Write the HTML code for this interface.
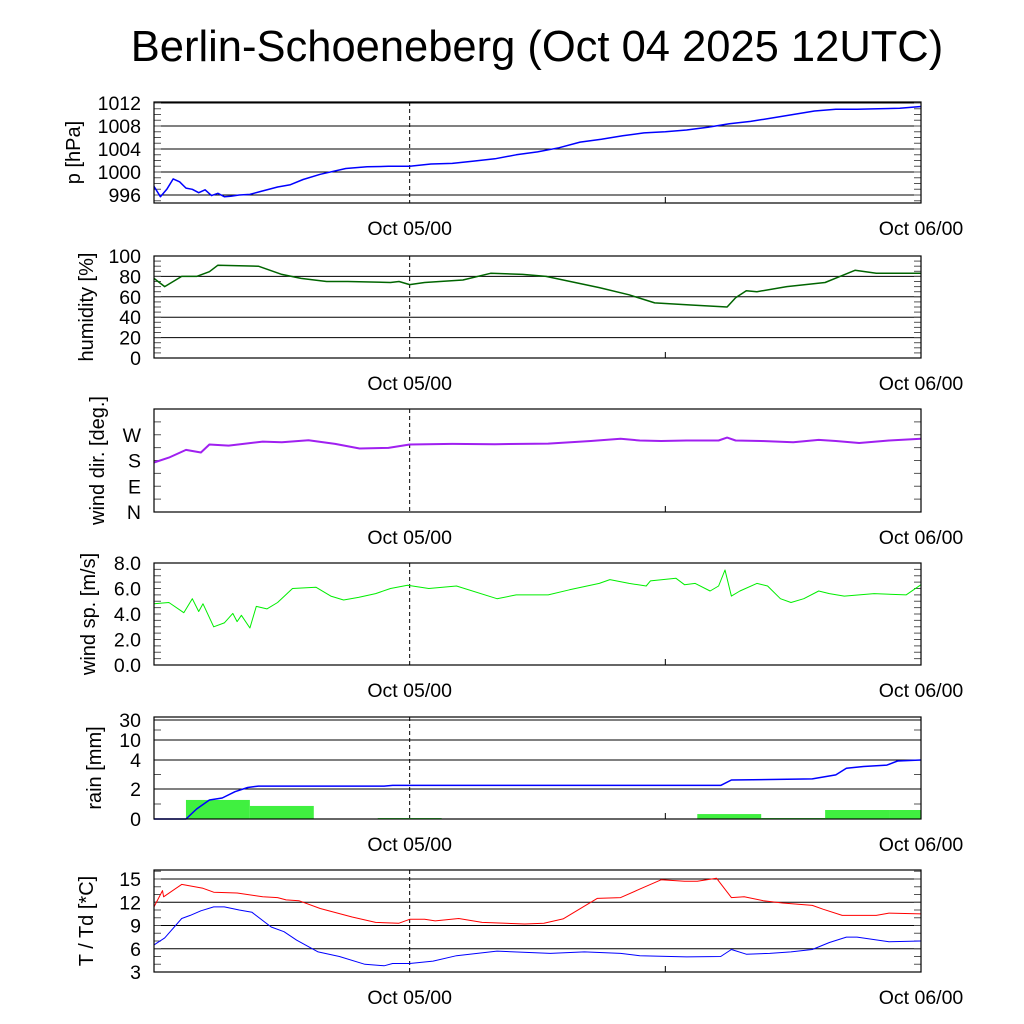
<!DOCTYPE html>
<html><head><meta charset="utf-8"><style>
html,body{margin:0;padding:0;background:#fff;}
svg{display:block;font-family:"Liberation Sans",sans-serif;}
</style></head><body>
<svg id="chart" width="1024" height="1024" viewBox="0 0 1024 1024" xmlns="http://www.w3.org/2000/svg">
<text x="537" y="61" font-size="43.5" text-anchor="middle">Berlin-Schoeneberg (Oct 04 2025 12UTC)</text>
</svg>
<script>
// ---- data ----
const xTickLabels = ["Oct 05/00", "Oct 06/00"];
const xTickHours = [12, 36];
const pT = [0,0.3,0.6,0.9,1.2,1.5,1.8,2.1,2.4,2.7,3,3.3,3.6,4,4.5,5,5.8,6.4,7,7.8,9,10,11,12,13,14,15,16,17,18,19,20,21,22,23,24,25,26,27,28,29,30,31,32,33,34,35,36];
const pV = [997.5,995.7,997,998.8,998.3,997.2,997,996.4,996.9,995.9,996.3,995.7,995.8,996,996.1,996.6,997.4,997.8,998.7,999.6,1000.6,1000.9,1001,1001,1001.4,1001.5,1001.9,1002.3,1003,1003.5,1004.2,1005.2,1005.7,1006.3,1006.8,1007,1007.3,1007.8,1008.4,1008.8,1009.4,1010,1010.6,1010.9,1010.9,1011,1011.1,1011.4];
const hT = [0,0.5,0.9,1.3,2,2.6,3,4.9,6,6.9,8.1,9.1,11.1,11.5,12,12.7,14.5,15.8,17.3,18.4,20.9,22.3,23.5,25.2,26.9,27.3,27.8,28.3,29.7,31.5,32.2,32.9,33.9,35.3,36];
const hV = [78,70,75,80,80,84.6,91,90,82,78,75,75,74,75,72,74,76.5,83,82,80,69,62,54,52,50,59,66,65,70,74,80,86,83,83,83];
const dT = [0,0.7,1.5,2.2,2.6,3.5,5.1,6,7.25,8.5,9.65,11,12,14,16,18.5,20.5,21.9,22.8,23.8,25,26.5,26.9,27.3,28.5,30,31.2,32,33.1,34.5,36];
const dV = [173,190,217,208,236,232,246,244,251,238,222,224,236,238,237,239,248,256,250,248,250,250,260,250,248,244,252,248,241,250,256];
const sT = [0,0.7,1.4,1.8,2.1,2.3,2.8,3.3,3.7,3.9,4.1,4.5,4.8,5.3,5.8,6.5,7.6,8.3,8.9,9.6,10.4,11.1,11.9,12.9,14.2,16.1,17,18.5,19.5,20.9,21.4,22.3,23.1,23.3,24.5,24.9,25.4,26.1,26.5,26.8,27.1,27.5,28.3,28.8,29.4,29.9,30.5,31.2,31.7,32.4,33.8,35.3,36];
const sV = [4.8,4.9,4.1,5.2,4.2,4.8,3.0,3.3,4.05,3.4,3.9,2.9,4.6,4.4,4.9,6.0,6.1,5.4,5.1,5.3,5.6,6.0,6.25,6.0,6.2,5.2,5.5,5.5,5.9,6.4,6.7,6.4,6.2,6.6,6.8,6.3,6.4,5.8,6.2,7.45,5.4,5.8,6.4,6.2,5.2,4.9,5.2,5.8,5.6,5.4,5.6,5.5,6.3];
const rT = [0,1.5,2,2.6,3.2,3.8,4.4,4.9,10.8,11.2,26.6,27.1,30.9,32,32.5,33.3,34.4,34.9,36];
const rV = [0,0,0.67,1.27,1.4,1.82,2.1,2.2,2.2,2.25,2.25,2.62,2.7,2.97,3.43,3.55,3.65,3.93,4.0];
const barCenters = [3,6,9,12,15,18,21,24,27,30,33,36];
const barValues = [1.27,0.87,0,0.03,0,0,0,0,0.33,0.03,0.6,0.6];
const tT = [0,0.4,0.45,1.3,2.3,2.8,3.9,5.1,5.8,6.2,6.8,7.8,9.3,10.4,11.5,12,12.7,13.2,14.3,15.4,17.4,18.3,19.2,20.8,21.9,22.8,23.8,24.9,25.5,26.4,27.1,27.7,28.6,29.5,30.9,31.4,32.3,33.9,34.5,36];
const tV = [11.4,13.5,12.7,14.3,13.8,13.3,13.2,12.7,12.6,12.3,12.2,11.2,10.1,9.4,9.3,9.8,9.8,9.6,9.9,9.4,9.2,9.3,9.85,12.5,12.6,13.7,14.9,14.7,14.7,15.1,12.6,12.7,12.2,11.9,11.6,11.1,10.3,10.3,10.6,10.5];
const tdT = [0,0.5,1.3,1.7,2.2,2.8,3.3,4,4.6,5.5,6.1,6.7,7.7,8.7,9.9,10.8,11.2,12,13.1,14.2,16.1,18.6,20.2,21.9,22.8,25,26.6,27.1,27.8,28.9,29.9,30.9,31.7,32.5,33,34.5,36];
const tdV = [6.5,7.4,9.9,10.3,10.9,11.4,11.4,11.0,10.7,8.8,8.2,7.1,5.6,5.0,4.0,3.8,4.1,4.1,4.4,5.1,5.7,5.4,5.6,5.4,5.1,4.95,5.0,5.9,5.3,5.4,5.6,5.9,6.8,7.5,7.5,6.9,7.0];

// ---- layout ----
const NS = "http://www.w3.org/2000/svg";
const svg = document.getElementById('chart');
const X0 = 154, X1 = 921, HRS = 36;
function xs(h){ return X0 + (X1 - X0) * h / HRS; }
function mk(tag, attrs, parent){
  const e = document.createElementNS(NS, tag);
  for (const k in attrs) e.setAttribute(k, attrs[k]);
  (parent || svg).appendChild(e);
  return e;
}
function linScale(lo, hi, top, bot){ return v => bot - (v - lo) / (hi - lo) * (bot - top); }
function pieceScale(vals, ys){
  return v => {
    if (v <= vals[0]) return ys[0];
    for (let i = 1; i < vals.length; i++) if (v <= vals[i]) return ys[i-1] + (v - vals[i-1]) / (vals[i] - vals[i-1]) * (ys[i] - ys[i-1]);
    return ys[ys.length-1];
  };
}

function panel(cfg){
  const g = mk('g', {});
  
  
  const {top, bot, ys} = cfg;
  cfg.grid.forEach(v => {
    const y = ys(v);
    const l = mk('line', {x1: X0, x2: X1, y1: y, y2: y, stroke: '#000', 'stroke-width': 1}, g);
    
    
  });
  cfg.minor.forEach(v => {
    const y = ys(v);
    mk('line', {x1: X0, x2: X0 + 7, y1: y, y2: y, stroke: '#555', 'stroke-width': 1}, g);
    mk('line', {x1: X1 - 7, x2: X1, y1: y, y2: y, stroke: '#555', 'stroke-width': 1}, g);
  });
  cfg.ticks.forEach((v, i) => {
    const t = mk('text', {x: 141, y: ys(v) + 7, 'font-size': 19.5, 'text-anchor': 'end'}, g);
    
    
    t.textContent = cfg.tickLabels[i];
  });
  const yt = mk('text', {x: 0, y: 0, 'font-size': 20, 'text-anchor': 'middle', transform: `translate(${cfg.tx},${(top + bot) / 2}) rotate(-90)`}, g);
  
  
  yt.textContent = cfg.title;
  const dl = mk('line', {x1: xs(12), x2: xs(12), y1: top, y2: bot, stroke: '#000', 'stroke-width': 1, 'stroke-dasharray': '4,3'}, g);
  
  
  mk('line', {x1: xs(24), x2: xs(24), y1: bot - 6, y2: bot, stroke: '#000'}, g);
  xTickHours.forEach((h, i) => {
    const t = mk('text', {x: xs(h), y: bot + 32, 'font-size': 19.5, 'text-anchor': 'middle'}, g);
    
    
    t.textContent = xTickLabels[i];
  });
  return g;
}
function border(g, top, bot){
  const r = mk('rect', {x: X0, y: top, width: X1 - X0, height: bot - top, fill: 'none', stroke: '#000', 'stroke-width': 1.2}, g);
  
  
}
function line(g, T, V, ys, color, w, name){
  const d = T.map((t, i) => (i ? 'L' : 'M') + xs(t).toFixed(1) + ',' + ys(V[i]).toFixed(1)).join('');
  const p = mk('path', {d: d, fill: 'none', stroke: color, 'stroke-width': w, 'stroke-linejoin': 'round'}, g);
  
  
}
function range(a, b, s){ const r = []; for (let v = a; v <= b + 1e-9; v += s) r.push(+v.toFixed(3)); return r; }

let ys = linScale(996, 1012, 103, 195);
let g = panel({name: 'pressure', top: 102, bot: 203, ys, grid: [996,1000,1004,1008,1012], minor: range(995,1012,1), ticks: [996,1000,1004,1008,1012], tickLabels: ['996','1000','1004','1008','1012'], title: 'p [hPa]', tx: 80});
line(g, pT, pV, ys, '#0000ff', 1.5, 'pressure-line');
border(g, 102, 203);

ys = linScale(0, 100, 256, 358);
g = panel({name: 'humidity', top: 256, bot: 358, ys, grid: [20,40,60,80], minor: range(0,100,5), ticks: [0,20,40,60,80,100], tickLabels: ['0','20','40','60','80','100'], title: 'humidity [%]', tx: 93});
line(g, hT, hV, ys, '#006400', 1.5, 'humidity-line');
border(g, 256, 358);

ys = linScale(0, 360, 409, 512);
g = panel({name: 'wind-direction', top: 409, bot: 512, ys, grid: [], minor: range(0,360,45), ticks: [0,90,180,270], tickLabels: ['N','E','S','W'], title: 'wind dir. [deg.]', tx: 104});
line(g, dT, dV, ys, '#a020f0', 2, 'wind-direction-line');
border(g, 409, 512);

ys = linScale(0, 8, 563, 665);
g = panel({name: 'wind-speed', top: 563, bot: 665, ys, grid: [], minor: range(0,8,0.5), ticks: [0,2,4,6,8], tickLabels: ['0.0','2.0','4.0','6.0','8.0'], title: 'wind sp. [m/s]', tx: 95});
line(g, sT, sV, ys, '#00ee00', 1, 'wind-speed-line');
border(g, 563, 665);

ys = pieceScale([0,2,4,10,30], [819,789,760,740,720]);
g = panel({name: 'rain', top: 717, bot: 819, ys, grid: [2,4,10,30], minor: [1,3,20], ticks: [0,2,4,10,30], tickLabels: ['0','2','4','10','30'], title: 'rain [mm]', tx: 101});
barCenters.forEach((c, i) => {
  const x0 = xs(c - 1.5), x1 = Math.min(xs(c + 1.5), X1);
  const v = barValues[i];
  if (v <= 0) return;
  const y = Math.min(ys(v), 818);
  const b = mk('rect', {x: x0, y: y, width: x1 - x0, height: 819 - y, fill: '#40f040'}, g);
  
  
});
line(g, rT, rV, ys, '#0000ff', 1.5, 'rain-accumulated-line');
border(g, 717, 819);

ys = linScale(3, 15, 879, 972);
g = panel({name: 'temperature', top: 870, bot: 972, ys, grid: [6,9,12,15], minor: range(3,16,1), ticks: [3,6,9,12,15], tickLabels: ['3','6','9','12','15'], title: 'T / Td [*C]', tx: 93});
line(g, tT, tV, ys, '#ff0000', 1, 'temperature-line');
line(g, tdT, tdV, ys, '#0000ff', 1, 'dewpoint-line');
border(g, 870, 972);
</script>
</body></html>
